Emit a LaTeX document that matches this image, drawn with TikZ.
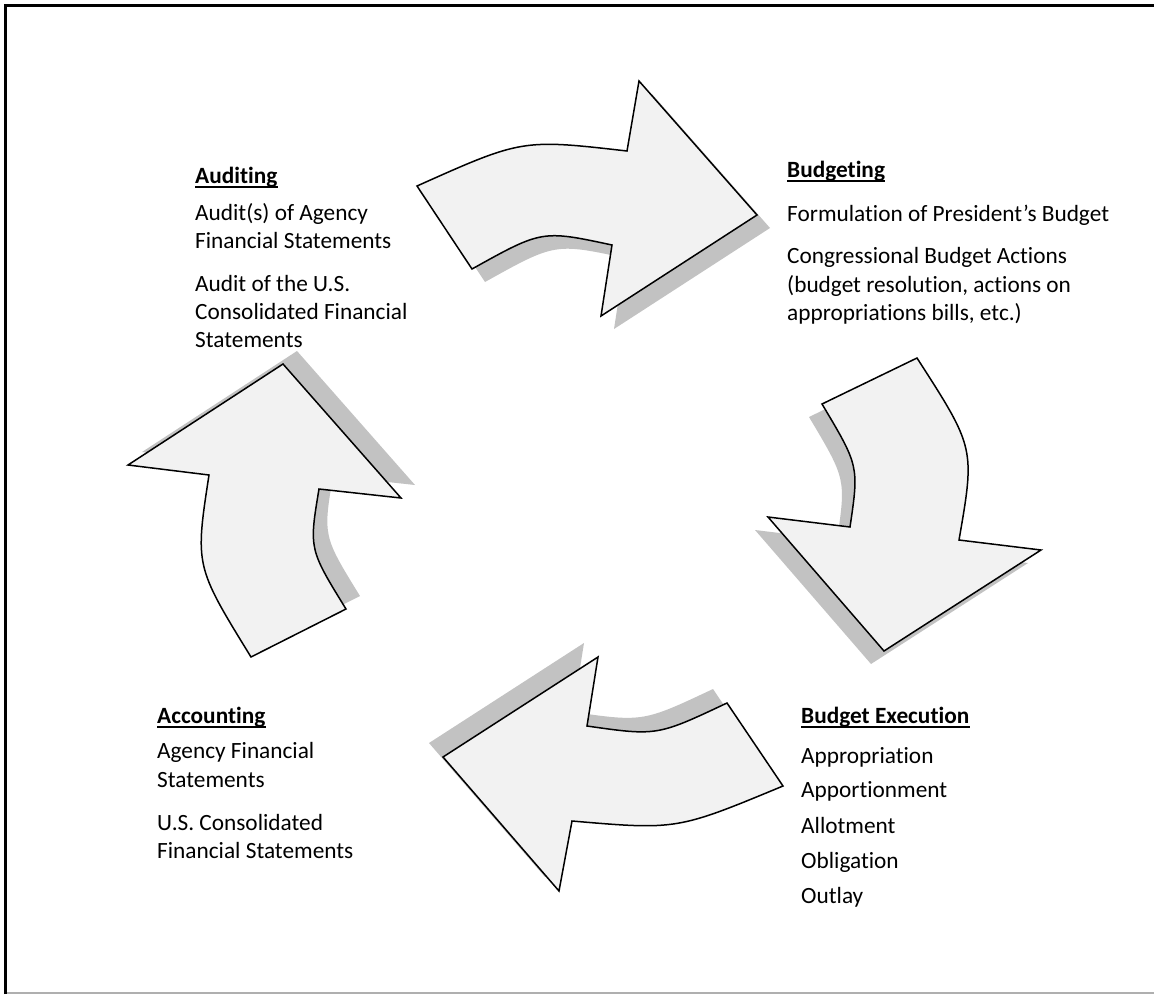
\documentclass[tikz,border=0pt]{standalone}
\usepackage{fontspec}
\setmainfont{Carlito}[Ligatures=NoCommon]
\definecolor{arrowfill}{RGB}{242,242,242}
\definecolor{shadowgray}{RGB}{194,194,194}
\definecolor{framegray}{RGB}{175,175,175}
\begin{document}
\begin{tikzpicture}[x=1pt,y=-1pt,
  cyclearrow/.style={draw=black, line width=1.5pt, fill=arrowfill, line join=miter},
  arrowshadow/.style={fill=shadowgray},
  txt/.style={anchor=base west, inner sep=0pt, font=\fontsize{23.3}{28}\selectfont},
  head/.style={txt, font=\fontsize{23.3}{28}\selectfont\bfseries},
  uline/.style={line width=1.6pt}]
\useasboundingbox (0,0) rectangle (1154,994);
\def\arrowTop{(417,186) .. controls (522,139) .. (627,151) -- (639,81) -- (757,215) -- (601,316) -- (612,245) .. controls (542,230) .. (472,269) -- cycle}
\def\arrowRight{(917,358) .. controls (975,448) .. (959,540) -- (1041,550) -- (884,651) -- (768,517) -- (850,527) .. controls (859,466) .. (822,404) -- cycle}
\def\arrowBottom{(727,703) -- (783,786) .. controls (677,830) .. (572,821) -- (559,891) -- (443,757) -- (598,657) -- (587,726) .. controls (657,736) .. (727,703) -- cycle}
\def\arrowLeft{(251,657) -- (346,609) .. controls (309,549) .. (319,489) -- (401,498) -- (283,364) -- (128,465) -- (209,475) .. controls (195,566) .. (251,657) -- cycle}
% frame
\draw[framegray, line width=2pt] (5.5,992.5) -- (1154,992.5);
\draw[line width=3pt] (5.5,994) -- (5.5,5.5) -- (1154,5.5);
% shadows
\fill[arrowshadow, shift={(13,13)}] \arrowTop;
\fill[arrowshadow, shift={(-13,13)}] \arrowRight;
\fill[arrowshadow, shift={(-14,-14)}] \arrowBottom;
\fill[arrowshadow, shift={(14,-13)}] \arrowLeft;
% arrows
\draw[cyclearrow] \arrowTop;
\draw[cyclearrow] \arrowRight;
\draw[cyclearrow] \arrowBottom;
\draw[cyclearrow] \arrowLeft;
% Auditing
\node[head] (audH) at (195,183) {Auditing};
\foreach \n/\y/\t in {1/220/{Audit(s) of Agency}, 2/248/{Financial Statements},
  3/291/{Audit of the U.S.}, 4/319/{Consolidated Financial}, 5/347/{Statements}}
  \node[txt] (aud\n) at (195,\y) {\t};
% Budgeting
\node[head] (budH) at (787,177) {Budgeting};
\foreach \n/\y/\t in {1/221/{Formulation of President’s Budget}, 2/263/{Congressional Budget Actions},
  3/292/{(budget resolution, actions on}, 4/320/{appropriations bills, etc.)}}
  \node[txt] (bud\n) at (787,\y) {\t};
% Budget Execution
\node[head] (exeH) at (801,723) {Budget Execution};
\foreach \n/\y/\t in {1/763/Appropriation, 2/797/Apportionment, 3/833/Allotment,
  4/868/Obligation, 5/903/Outlay}
  \node[txt] (exe\n) at (801,\y) {\t};
% Accounting
\node[head] (accH) at (157,723) {Accounting};
\foreach \n/\y/\t in {1/758/{Agency Financial}, 2/787/{Statements},
  3/830/{U.S. Consolidated}, 4/858/{Financial Statements}}
  \node[txt] (acc\n) at (157,\y) {\t};
% underlines
\foreach \h in {audH,budH,exeH,accH}
  \draw[uline] ([yshift=-4pt]\h.base west) -- ([yshift=-4pt]\h.base east);
\end{tikzpicture}
\end{document}
